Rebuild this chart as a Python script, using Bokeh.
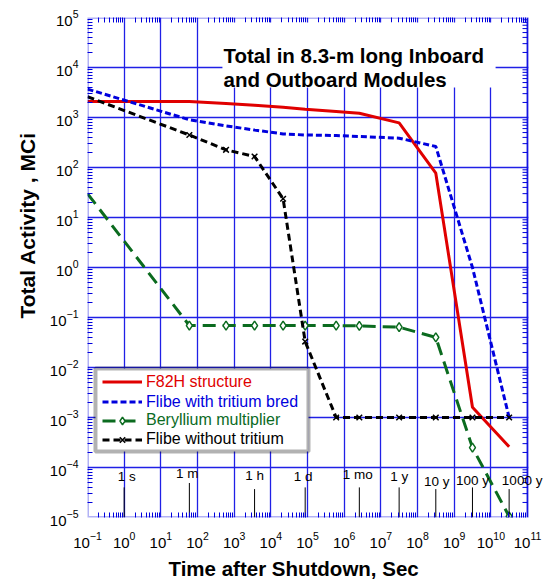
import math
from bokeh.plotting import figure
from bokeh.models import (FixedTicker, LogAxis, BoxAnnotation, Label, LabelSet, Title,
                          ColumnDataSource, Legend, LegendItem)
from bokeh.core.properties import value
from bokeh.embed import file_html
from bokeh.resources import INLINE

# ---------------- data ----------------
# time after shutdown, seconds: shutdown, 1 min, 10 min, 1 h, 6 h, 1 d, 1 w, 1 mo, 1 y, 10 y, 100 y, 1000 y
time_s = [0.1, 60, 600, 3600, 21600, 86400, 604800, 2.592e6, 3.156e7, 3.156e8, 3.156e9, 3.156e10]

# total activity, MCi
f82h_structure = [2100, 2100, 1900, 1750, 1600, 1470, 1320, 1220, 780, 77, 1.6e-3, 2.6e-4]
flibe_with_tritium = [3700, 900, 680, 560, 470, 447, 436, 417, 386, 263, 1.0, 1.0e-3]
beryllium_multiplier = [30, 0.069, 0.069, 0.069, 0.069, 0.069, 0.069, 0.068, 0.064, 0.040, 2.5e-4, 1.05e-5]
flibe_without_tritium = [2600, 447, 226, 166, 23.7, 0.033, 1.0e-3, 1.0e-3, 1.0e-3, 1.0e-3, 1.0e-3, 1.0e-3]

series_names = ["F82H structure", "Flibe with tritium bred",
                "Beryllium multiplier", "Flibe without tritium"]

# time reference marks drawn inside the plot
mark_labels = ["1 s", "1 m", "1 h", "1 d", "1 mo", "1 y", "10 y", "100 y", "1000 y"]
mark_times = [1, 60, 3600, 86400, 2.592e6, 3.156e7, 3.156e8, 3.156e9, 3.156e10]

# ticks
x_ticks = [10.0 ** k for k in range(-1, 12)]
y_ticks = [10.0 ** k for k in range(-5, 6)]
x_minor = [m * 10.0 ** k for k in range(-1, 11) for m in range(2, 10)]
y_minor = [m * 10.0 ** k for k in range(-5, 5) for m in range(2, 10)]

# ---------------- styles / layout ----------------
RED = "#e00000"
BLUE = "#0000dd"
GREEN = "#0b6b1f"
BLACK = "#000000"
GRID = "#2020e6"
FONT = "Liberation Sans"

PX_PER_DECADE = 440 / 12     # horizontal scale of the frame
X_MAX = 1e11                  # right edge of the drawn box
X_VIEW_END = 10 ** (11 + 16 / PX_PER_DECADE)   # frame extends a little for the "1000 y" text
TICK_DEC = 5 / PX_PER_DECADE  # minor tick length on the right edge, in decades

mark_line_top = [4.0e-5, 4.9e-5, 3.7e-5, 4.0e-5, 4.0e-5, 4.0e-5, 3.7e-5, 4.0e-5, 3.7e-5]
mark_text_y = [5.25e-5, 6.3e-5, 5.75e-5, 5.25e-5, 6.0e-5, 5.25e-5, 4.17e-5, 4.57e-5, 4.57e-5]
mark_text_dx = [2.5, -2, 0, -2, -1.5, 0, 1, 0, 13]

p = figure(width=543, height=585, x_axis_type="log", y_axis_type="log",
           x_range=(0.1, X_VIEW_END), y_range=(1e-5, 1e5),
           output_backend="svg", toolbar_location=None,
           min_border_left=87, min_border_right=0, min_border_top=17, min_border_bottom=68)
p.background_fill_color = "white"
p.border_fill_color = "white"
p.outline_line_color = None

# axes
bottom_axis = p.below[0]
left_axis = p.left[0]
bottom_axis.ticker = FixedTicker(ticks=x_ticks, minor_ticks=x_minor)
left_axis.ticker = FixedTicker(ticks=y_ticks, minor_ticks=y_minor)
top_axis = LogAxis(ticker=FixedTicker(ticks=[], minor_ticks=x_minor))
p.add_layout(top_axis, "above")

for ax in [bottom_axis, left_axis, top_axis]:
    ax.axis_line_color = None
    ax.major_tick_line_color = BLUE
    ax.major_tick_in = 0
    ax.major_tick_out = 0
    ax.minor_tick_line_color = BLUE
    ax.minor_tick_line_width = 1
    ax.minor_tick_in = 5
    ax.minor_tick_out = 0
    ax.major_label_text_font = FONT
    ax.major_label_text_font_size = "15px"
    ax.major_label_text_color = "black"
top_axis.major_label_standoff = 0

bottom_axis.major_label_standoff = 14
left_axis.major_label_standoff = 9

p.xgrid.ticker = FixedTicker(ticks=x_ticks)
p.ygrid.ticker = FixedTicker(ticks=y_ticks)
for g in [p.xgrid[0], p.ygrid[0]]:
    g.grid_line_color = GRID
    g.grid_line_width = 1.3
    g.grid_line_alpha = 1.0

# axis titles
p.add_layout(Title(text="Time after Shutdown, Sec", align="left", offset=81, standoff=8,
                   text_font=FONT, text_font_style="bold", text_font_size="20.5px",
                   text_color="black"), "below")
p.add_layout(Title(text="Total Activity , MCi", align="left", offset=199, standoff=16,
                   text_font=FONT, text_font_style="bold", text_font_size="21px",
                   text_color="black"), "left")

# series
r_red = p.line(time_s, f82h_structure, line_color=RED, line_width=3)
r_blue = p.line(time_s, flibe_with_tritium, line_color=BLUE, line_width=3, line_dash="6 3")
r_green = p.line(time_s, beryllium_multiplier, line_color=GREEN, line_width=3, line_dash="13 7")
r_green_m = p.scatter(time_s[1:], beryllium_multiplier[1:], marker="diamond", size=9,
                      fill_color="white", line_color=GREEN, line_width=1.5)
r_black = p.line(time_s, flibe_without_tritium, line_color=BLACK, line_width=3, line_dash="7 4")
r_black_m = p.scatter(time_s[1:], flibe_without_tritium[1:], marker="x", size=8,
                      line_color=BLACK, line_width=1.5)

# time reference marks
p.segment(x0=mark_times, y0=[1e-5] * len(mark_times), x1=mark_times, y1=mark_line_top,
          line_color="black", line_width=1)

# right-side minor ticks (inward) and cover of the strip beyond 1e11
p.add_layout(BoxAnnotation(left=X_MAX * 10 ** (0.8 / PX_PER_DECADE), fill_color="white",
                           fill_alpha=1.0, line_color=None))
p.segment(x0=[X_MAX] * len(y_minor), y0=y_minor,
          x1=[X_MAX / 10 ** TICK_DEC] * len(y_minor), y1=y_minor,
          line_color=BLUE, line_width=1)
# frame border
p.add_layout(BoxAnnotation(left=0.1, right=X_MAX, bottom=1e-5, top=1e5,
                           fill_alpha=0.0, line_color=BLUE, line_width=3))

mark_src = ColumnDataSource(dict(x=mark_times, y=mark_text_y, text=mark_labels, dx=mark_text_dx))
p.add_layout(LabelSet(x="x", y="y", text="text", x_offset="dx", source=mark_src,
                      text_font=value(FONT), text_font_size=value("13.5px"), text_color="black",
                      text_align="center", text_baseline="alphabetic"))

# title box
p.add_layout(BoxAnnotation(left=10 ** 2.68, right=10 ** 10.13, bottom=10 ** 3.6, top=10 ** 4.9,
                           fill_color="white", fill_alpha=1.0, line_color=None))
p.add_layout(Label(x=10 ** 2.709, y=10 ** 4.24, text="Total in 8.3-m long Inboard",
                   text_font=FONT, text_font_style="bold", text_font_size="20.5px",
                   text_color="black", text_align="left", text_baseline="alphabetic"))
p.add_layout(Label(x=10 ** 2.709, y=10 ** 3.76, text="and Outboard Modules",
                   text_font=FONT, text_font_style="bold", text_font_size="20.5px",
                   text_color="black", text_align="left", text_baseline="alphabetic"))

# legend box
p.add_layout(BoxAnnotation(left=0.165, right=1.064e5, bottom=2.09e-4, top=9.55e-3,
                           fill_color="white", fill_alpha=1.0,
                           line_color="black", line_width=4))

legend_rows = [
    (series_names[0], [r_red], RED, 125.8),
    (series_names[1], [r_blue], BLUE, 105.8),
    (series_names[2], [r_green, r_green_m], GREEN, 87.5),
    (series_names[3], [r_black, r_black_m], BLACK, 68.5),
]
for name, rends, col, vy in legend_rows:
    lg = Legend(items=[LegendItem(label=name, renderers=rends)], location=(15, vy),
                border_line_color=None, background_fill_alpha=0.0,
                padding=0, margin=0, spacing=0, glyph_width=40, glyph_height=19,
                label_height=19, label_width=10, label_standoff=4,
                label_text_font=FONT, label_text_font_size="16px",
                label_text_color=col, label_text_baseline="middle")
    p.add_layout(lg)

open("out.html", "w").write(file_html(p, INLINE))
